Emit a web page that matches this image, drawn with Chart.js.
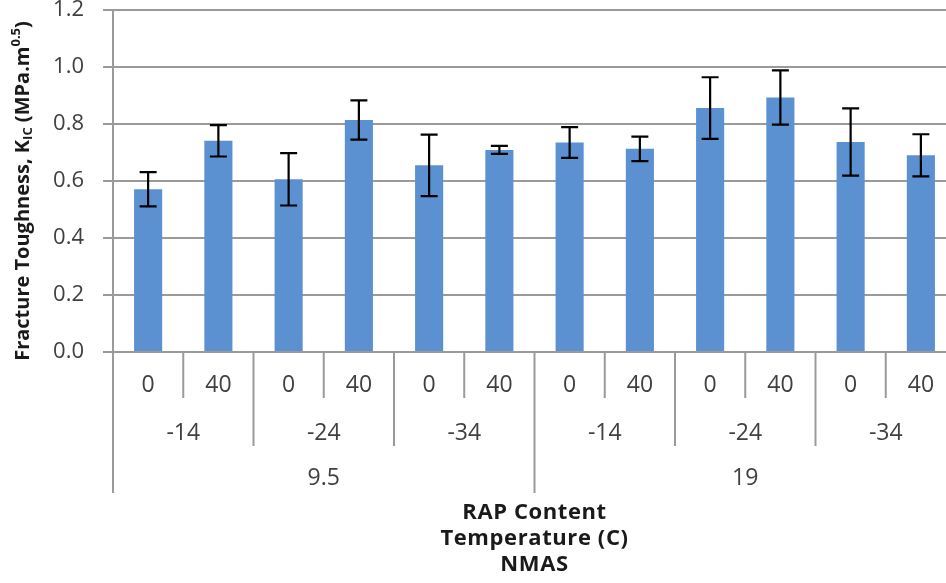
<!DOCTYPE html>
<html>
<head>
<meta charset="utf-8">
<title>Fracture Toughness</title>
<script src="https://cdn.jsdelivr.net/npm/chart.js@4.4.0/dist/chart.umd.min.js"></script>
<style>
  html, body { margin: 0; padding: 0; background: #fff; overflow: hidden; }
  #wrap { width: 956px; height: 583px; }
</style>
</head>
<body>
<div id="wrap"><canvas id="chart"></canvas></div>
<script>
// grouping levels, outermost first
const nmasGroups = ["9.5", "19"];
const temperatures = ["-14", "-24", "-34"];
const rapContent = ["0", "40"];

// one value per bar, in order NMAS > temperature > RAP
const fractureToughness = [0.571, 0.741, 0.606, 0.814, 0.655, 0.709, 0.735, 0.713, 0.856, 0.893, 0.737, 0.690];
const stdDev = [0.060, 0.055, 0.092, 0.069, 0.108, 0.014, 0.054, 0.043, 0.108, 0.095, 0.118, 0.074];

const yTicks = [0, 0.2, 0.4, 0.6, 0.8, 1.0, 1.2];

const GRID = "#9a9a9a";
const TEXT = "#404040";
const FONT = "'Open Sans', sans-serif";

const categories = [];
nmasGroups.forEach((n) => {
  temperatures.forEach((t) => {
    rapContent.forEach((r) => categories.push(n + " / " + t + " / " + r));
  });
});

const errorBarPlugin = {
  id: "errorBars",
  afterDatasetsDraw: (chart) => {
    const { ctx } = chart;
    const x = chart.scales.x;
    const y = chart.scales.y;
    const cap = 8.5;
    ctx.save();
    ctx.strokeStyle = "#000";
    ctx.lineWidth = 2.2;
    fractureToughness.forEach((v, i) => {
      const cx = x.getPixelForValue(i);
      const top = y.getPixelForValue(v + stdDev[i]);
      const bot = y.getPixelForValue(v - stdDev[i]);
      ctx.beginPath();
      ctx.moveTo(cx, top);
      ctx.lineTo(cx, bot);
      ctx.moveTo(cx - cap, top);
      ctx.lineTo(cx + cap, top);
      ctx.moveTo(cx - cap, bot);
      ctx.lineTo(cx + cap, bot);
      ctx.stroke();
    });
    ctx.restore();
  },
};

const groupAxisPlugin = {
  id: "groupAxis",
  afterDraw: (chart) => {
    const { ctx, chartArea } = chart;
    const x = chart.scales.x;
    const base = chartArea.bottom;
    const step = x.getPixelForValue(1) - x.getPixelForValue(0);
    const rows = [385, 433, 478];
    const lineEnds = [398, 446, 493];
    const perTemp = rapContent.length;
    const perNmas = perTemp * temperatures.length;

    ctx.save();
    ctx.strokeStyle = GRID;
    ctx.lineWidth = 2;
    // separators, boundary i sits left of bar i
    for (let i = 0; i <= categories.length; i++) {
      const px = x.getPixelForValue(0) - step / 2 + i * step;
      let end = lineEnds[0];
      if (i % perNmas === 0) end = lineEnds[2];
      else if (i % perTemp === 0) end = lineEnds[1];
      ctx.beginPath();
      ctx.moveTo(px, base);
      ctx.lineTo(px, end);
      ctx.stroke();
    }

    ctx.fillStyle = TEXT;
    ctx.textAlign = "center";
    ctx.textBaseline = "middle";
    ctx.font = "23px " + FONT;
    categories.forEach((c, i) => {
      ctx.fillText(rapContent[i % perTemp], x.getPixelForValue(i), rows[0]);
    });
    nmasGroups.forEach((n, ni) => {
      temperatures.forEach((t, ti) => {
        const first = ni * perNmas + ti * perTemp;
        const mid = (x.getPixelForValue(first) + x.getPixelForValue(first + perTemp - 1)) / 2;
        ctx.fillText(t, mid, rows[1]);
      });
      const mid = (x.getPixelForValue(ni * perNmas) + x.getPixelForValue((ni + 1) * perNmas - 1)) / 2;
      ctx.fillText(n, mid, rows[2]);
    });

    // axis titles
    const cxMid = (chartArea.left + chartArea.right) / 2;
    ctx.fillStyle = "#1a1a1a";
    ctx.font = "bold 22px " + FONT;
    ctx.letterSpacing = "0.6px";
    ctx.fillText("RAP Content", cxMid, 513);
    ctx.fillText("Temperature (C)", cxMid, 539);
    ctx.fillText("NMAS", cxMid, 565);
    ctx.letterSpacing = "0px";

    // rotated y title with subscript / superscript
    const parts = [
      { t: "Fracture Toughness, K", size: 20, dy: 0 },
      { t: "IC", size: 13, dy: 5 },
      { t: " (MPa.m", size: 20, dy: 0 },
      { t: "0.5", size: 13, dy: -7 },
      { t: ")", size: 20, dy: 0 },
    ];
    ctx.translate(23, 191);
    ctx.rotate(-Math.PI / 2);
    ctx.textAlign = "left";
    let total = 0;
    parts.forEach((p) => {
      ctx.font = "bold " + p.size + "px " + FONT;
      p.w = ctx.measureText(p.t).width;
      total += p.w;
    });
    let pos = -total / 2;
    parts.forEach((p) => {
      ctx.font = "bold " + p.size + "px " + FONT;
      ctx.fillText(p.t, pos, p.dy);
      pos += p.w;
    });
    ctx.restore();
  },
};

new Chart(document.getElementById("chart"), {
  type: "bar",
  data: {
    labels: categories,
    datasets: [
      {
        data: fractureToughness,
        backgroundColor: "#5b90d1",
        borderWidth: 0,
        categoryPercentage: 1.0,
        barPercentage: 0.4,
      },
    ],
  },
  options: {
    responsive: true,
    maintainAspectRatio: false,
    animation: false,
    layout: { padding: { top: 10, left: 0, right: 0, bottom: 0 } },
    plugins: {
      legend: { display: false },
      tooltip: { enabled: false },
    },
    scales: {
      x: {
        ticks: { display: false },
        grid: { display: false },
        border: { display: false },
        afterFit: (scale) => {
          scale.height = 231;
        },
      },
      y: {
        min: 0,
        max: 1.2,
        afterBuildTicks: (scale) => {
          scale.ticks = yTicks.map((v) => ({ value: v }));
        },
        ticks: {
          color: TEXT,
          padding: 19,
          font: { family: FONT, size: 22, lineHeight: 1 },
          callback: (v) => Number(v).toFixed(1),
        },
        grid: { color: GRID, lineWidth: 2, tickLength: 10 },
        border: { display: true, color: GRID, width: 2 },
        afterFit: (scale) => {
          scale.width = 113;
          scale.paddingTop = 10;
          scale.paddingBottom = 10;
        },
      },
    },
  },
  plugins: [errorBarPlugin, groupAxisPlugin],
});
</script>
</body>
</html>
